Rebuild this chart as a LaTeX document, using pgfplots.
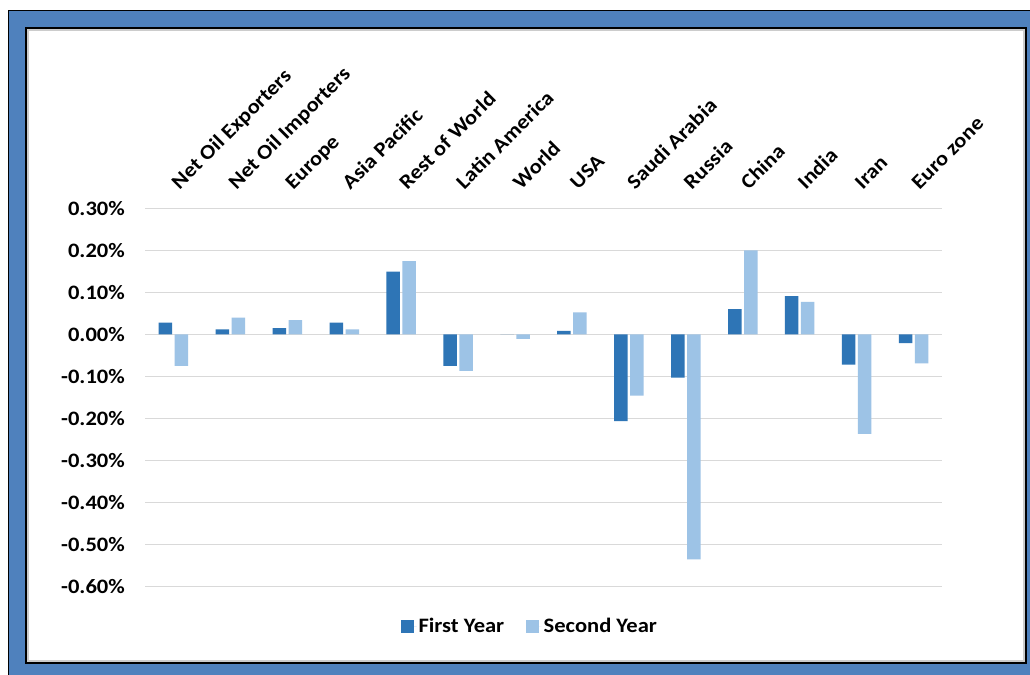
\documentclass[border=0pt]{standalone}
\usepackage{pgfplots}
\pgfplotsset{compat=1.18}
\usepackage{fontspec}
\setmainfont{Carlito}[FakeStretch=1.1]

\definecolor{firstyr}{RGB}{46,117,182}
\definecolor{secondyr}{RGB}{157,195,230}
\definecolor{framebl}{RGB}{79,129,189}
\definecolor{gridgr}{RGB}{217,217,217}

\newcommand{\lblfont}{\fontsize{20.5bp}{24bp}\selectfont\bfseries}

\begin{document}
\begin{tikzpicture}
% page area
\path[use as bounding box] (0,0) rectangle (1030bp,-675bp);
\clip (0,0) rectangle (1030bp,-675bp);
% outer blue frame and white panel
\fill[framebl, draw=black, line width=1.5bp] (8.5bp,-10.5bp) rectangle (1045bp,-690bp);
\fill[white, draw=black, line width=2bp] (26bp,-28bp) rectangle (1026bp,-663bp);
\draw[gray!40, line width=1.5bp] (28bp,-30bp) rectangle (1024bp,-661bp);

\begin{axis}[
  at={(145bp,-586.3bp)}, anchor=south west,
  scale only axis, width=797bp, height=378bp,
  ybar=2.5bp, bar width=13.5bp,
  xmin=-0.5, xmax=13.5,
  ymin=-0.6, ymax=0.3,
  ytick={-0.6,-0.5,-0.4,-0.3,-0.2,-0.1,0,0.1,0.2,0.3},
  xtick={0,...,13},
  xticklabels={Net Oil Exporters, Net Oil Importers, Europe, Asia Pacific, Rest of World, Latin America, World, USA, Saudi Arabia, Russia, China, India, Iran, Euro zone},
  xticklabel pos=upper,
  xticklabel style={font=\lblfont, yshift=18bp, xshift=6bp, rotate=45, anchor=base west, inner sep=0pt},
  /pgf/number format/assume math mode=true,
  yticklabel={\pgfmathprintnumber[fixed,fixed zerofill,precision=2]{\tick}\%},
  yticklabel style={font=\lblfont, anchor=east, inner sep=0pt, xshift=-20bp},
  scaled y ticks=false,
  major tick length=0pt,
  axis line style={draw=none},
  ymajorgrids, grid style={gridgr, line width=1.5bp},
  legend columns=2,
  legend style={draw=none, fill=none, font=\lblfont, at={(0.483,-0.106)}, anchor=center,
    /tikz/every even column/.append style={column sep=20bp}},
  legend image code/.code={\fill[#1,draw=none] (0bp,-6.5bp) rectangle (12.5bp,6bp);
    \path (0bp,0bp) -- (15.5bp,0bp);},
]
\addplot[fill=firstyr, draw=none] coordinates {
  (0,0.028) (1,0.012) (2,0.015) (3,0.028) (4,0.149) (5,-0.075) (6,0.0)
  (7,0.008) (8,-0.207) (9,-0.103) (10,0.060) (11,0.091) (12,-0.072) (13,-0.021)};
\addplot[fill=secondyr, draw=none] coordinates {
  (0,-0.075) (1,0.040) (2,0.034) (3,0.012) (4,0.1745) (5,-0.087) (6,-0.011)
  (7,0.052) (8,-0.146) (9,-0.536) (10,0.200) (11,0.077) (12,-0.237) (13,-0.069)};
\legend{First Year, Second Year}
\end{axis}
\end{tikzpicture}
\end{document}
